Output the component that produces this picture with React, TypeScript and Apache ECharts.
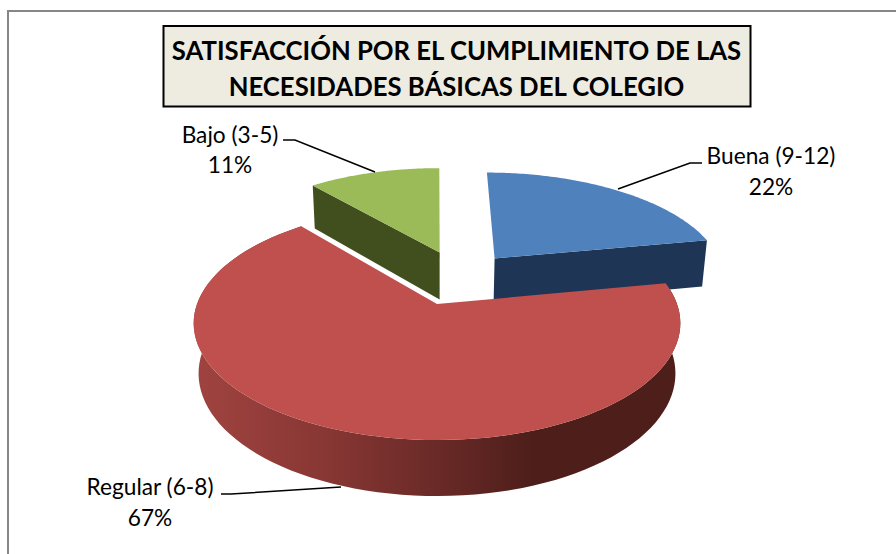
import React, { useEffect, useRef } from "react";
import * as echarts from "echarts";

const categories = ["Buena (9-12)", "Regular (6-8)", "Bajo (3-5)"];
const percents = [22, 67, 11];
const titleLines = ["SATISFACCIÓN POR EL CUMPLIMIENTO DE LAS", "NECESIDADES BÁSICAS DEL COLEGIO"];

const FONT = "Lato";
const CX = 437, CY = 304, R = 240, S = 113.6, K = 0.165, D = 50.6, M = 0.02;
const TOP = ["#4F81BD", "#BF504D", "#9BBB59"];
const CUT = ["#1F3555", "#5a2220", "#414F1F"];
const EXPLODE: number[][] = [[0.257, -0.43], [0, 0], [0.012, -0.49]];
const Z = [1, 2, 1];
// which radial cut face of each slice is turned towards the viewer
const CUT_FACE = ["end", "none", "start"];
const LABELS: any[] = [
  { x: 771, y1: 144, y2: 175, line: [[702, 163], [690, 163], [618, 189]] },
  { x: 150, y1: 475, y2: 506, line: [[221, 494], [231, 494], [341, 487]] },
  { x: 230, y1: 123, y2: 153, line: [[283, 140], [295, 140], [375, 172]] },
];

function project(u: number, v: number, z: number): number[] {
  const w = 1 - K * v + M * z;
  return [CX + (R * u) / w, CY + (S * v + D * z) / w];
}

function renderSlice(params: any, api: any) {
  const i = params.dataIndex;
  const total = percents.reduce((a, b) => a + b, 0);
  const before = percents.slice(0, i).reduce((a, b) => a + b, 0);
  const a0 = (before / total) * Math.PI * 2;
  const a1 = ((before + (api.value(0) as number)) / total) * Math.PI * 2;
  const [du, dv] = EXPLODE[i];
  const steps = 96;
  const arc: number[][] = [];
  for (let s = 0; s <= steps; s++) {
    const a = a0 + ((a1 - a0) * s) / steps;
    arc.push([du + Math.sin(a), dv - Math.cos(a)]);
  }
  const apex = [du, dv];
  const P = (p: number[], z: number) => project(p[0], p[1], z);
  const children: any[] = [];
  const z2 = Z[i];

  const wallFill =
    i === 1
      ? new echarts.graphic.LinearGradient(0, 0, 1, 0, [
          { offset: 0, color: "#a04340" },
          { offset: 0.25, color: "#8a3835" },
          { offset: 0.5, color: "#6a2a27" },
          { offset: 0.7, color: "#4d1e1a" },
          { offset: 1, color: "#4d1e1a" },
        ])
      : CUT[i];

  if (CUT_FACE[i] !== "none") {
    const end = CUT_FACE[i] === "start" ? arc[0] : arc[arc.length - 1];
    children.push({
      type: "polygon",
      z2,
      shape: { points: [P(apex, 0), P(end, 0), P(end, 1), P(apex, 1)] },
      style: { fill: CUT[i] },
    });
  }
  // outer wall (only the red slice shows it)
  if (i === 1) {
    children.push({
      type: "polygon",
      z2,
      shape: { points: [...arc.map((p) => P(p, 0)), ...arc.slice().reverse().map((p) => P(p, 1))] },
      style: { fill: wallFill },
    });
  }
  // top face
  children.push({
    type: "polygon",
    z2: z2 + 0.5,
    shape: { points: [P(apex, 0), ...arc.map((p) => P(p, 0))] },
    style: { fill: TOP[i] },
  });
  // label
  const lab = LABELS[i];
  children.push({
    type: "polyline",
    z2: 5,
    shape: { points: lab.line },
    style: { stroke: "#000", lineWidth: 1.5, fill: "none" },
  });
  children.push({
    type: "text",
    z2: 6,
    style: {
      x: lab.x, y: lab.y1, text: categories[i],
      fill: "#000", font: `22.7px ${FONT}`, textAlign: "center", textVerticalAlign: "top",
    },
  });
  children.push({
    type: "text",
    z2: 6,
    style: {
      x: lab.x, y: lab.y2, text: `${api.value(0)}%`,
      fill: "#000", font: `22.7px ${FONT}`, textAlign: "center", textVerticalAlign: "top",
    },
  });
  return { type: "group", children };
}

export default function App() {
  const ref = useRef<HTMLDivElement>(null);
  useEffect(() => {
    document.body.style.margin = "0";
    const chart = echarts.init(ref.current!, null, { renderer: "svg" });
    chart.setOption({
      animation: false,
      backgroundColor: "#fff",
      title: {
        text: titleLines.join("\n"),
        left: 451.5,
        top: 27,
        textAlign: "center",
        textStyle: { fontFamily: FONT, fontWeight: "bold", fontSize: 25.7, lineHeight: 36, color: "#000" },
      },
      graphic: [
        { type: "line", z: -1, shape: { x1: 8, y1: 11, x2: 896, y2: 11 }, style: { stroke: "#868686", lineWidth: 2 } },
        { type: "line", z: -1, shape: { x1: 8, y1: 10, x2: 8, y2: 554 }, style: { stroke: "#868686", lineWidth: 2 } },
        { type: "rect", z: -1, shape: { x: 163.5, y: 26, width: 587, height: 80.5 }, style: { fill: "#EEECE1", stroke: "#000", lineWidth: 2 } },
      ],
      series: [
        {
          type: "custom",
          coordinateSystem: "none",
          renderItem: renderSlice,
          data: percents.map((p, i) => ({ name: categories[i], value: [p, i] })),
        },
      ],
    });
    return () => chart.dispose();
  }, []);
  return <div ref={ref} style={{ position: "fixed", left: 0, top: 0, width: 896, height: 554 }} />;
}
